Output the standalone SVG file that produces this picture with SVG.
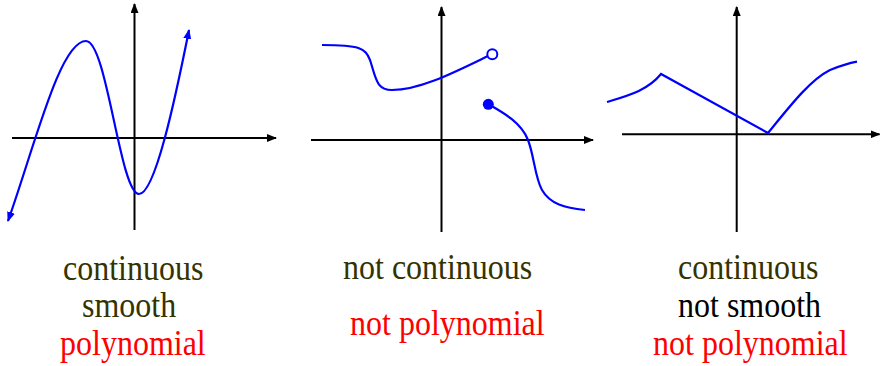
<svg xmlns="http://www.w3.org/2000/svg" width="880" height="366" viewBox="0 0 880 366">
<style>
.ax{stroke:#000;stroke-width:2;fill:none;marker-end:url(#ah)}
.cv{stroke:#0000ff;stroke-width:2.2;fill:none}
.t{font-family:"Liberation Serif","Times New Roman",serif;font-size:32px}
.ol{fill:#333300}
.rd{fill:#ff0000}
.bk{fill:#000}
</style>
<defs>
<marker id="ah" viewBox="0 0 10 8" refX="9" refY="4" markerWidth="10" markerHeight="8" markerUnits="userSpaceOnUse" orient="auto">
<path d="M0,0 L10,4 L0,8 Z" fill="#000"/>
</marker>
<marker id="bh" viewBox="0 0 10 8" refX="9" refY="4" markerWidth="10" markerHeight="8" markerUnits="userSpaceOnUse" orient="auto-start-reverse">
<path d="M0,0 L10,4 L0,8 Z" fill="#0000ff"/>
</marker>
</defs>
<g id="panel1">
<line class="ax" x1="12" y1="138" x2="276" y2="138"/>
<line class="ax" x1="134.5" y1="230" x2="134.5" y2="4"/>
<path class="cv" marker-start="url(#bh)" marker-end="url(#bh)" d="M8,221 C35,145 60,41 86,41 C107,41 120,194 139,194 C155,194 175,100 189,30"/>
</g>
<g id="panel2">
<line class="ax" x1="311" y1="140" x2="593" y2="140"/>
<line class="ax" x1="441.5" y1="232" x2="441.5" y2="7"/>
<path class="cv" d="M322,45 C360,45 365,48 370,60 C376,78 376,90 392,90 C420,90 455,72 488,56"/>
<circle cx="492.3" cy="54.3" r="5" fill="#fff" stroke="#0000ff" stroke-width="2"/>
<path class="cv" d="M488,104 C502,112 521,122 528,140 C534,155 535,178 542,190 C550,204 565,208 585,210"/>
<circle cx="488.3" cy="104.3" r="5.5" fill="#0000ff"/>
</g>
<g id="panel3">
<line class="ax" x1="622" y1="134.3" x2="879.5" y2="134.3"/>
<line class="ax" x1="736.7" y1="232" x2="736.7" y2="7"/>
<path class="cv" d="M607,102 C630,95 648,90 661,74 L768,133 C790,106 810,80 830,70 C840,66 850,63 857,61.7"/>
</g>
<g id="labels">
<text class="t ol" transform="translate(63,279.5) scale(1,1.12)">continuous</text>
<text class="t ol" transform="translate(82,317) scale(1,1.12)">smooth</text>
<text class="t rd" transform="translate(60,354.5) scale(1,1.12)">polynomial</text>
<text class="t ol" transform="translate(343,278.5) scale(1,1.12)">not continuous</text>
<text class="t rd" transform="translate(350,335) scale(1,1.12)">not polynomial</text>
<text class="t ol" transform="translate(678,278.5) scale(1,1.12)">continuous</text>
<text class="t bk" transform="translate(678,317) scale(1,1.12)">not smooth</text>
<text class="t rd" transform="translate(653,354.5) scale(1,1.12)">not polynomial</text>
</g>
</svg>
